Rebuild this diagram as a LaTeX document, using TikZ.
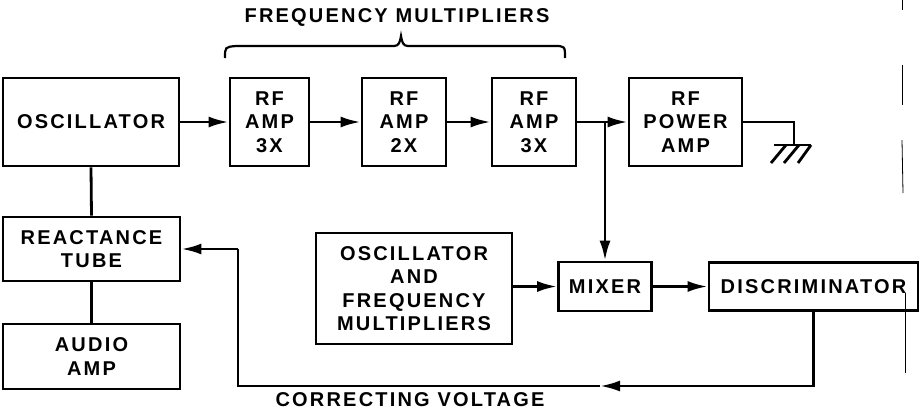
\documentclass[tikz,border=0pt]{standalone}
\usepackage{fontspec}
\setmainfont{Liberation Sans}[LetterSpace=11]
\usetikzlibrary{arrows.meta}
\begin{document}
\begin{tikzpicture}[x=1pt,y=-1pt,
  blk/.style={draw, line width=2.8pt, rectangle, inner sep=0pt, align=center,
    font=\fontsize{20}{23.5}\selectfont\bfseries},
  wire/.style={line width=2.8pt},
  arr/.style={wire, -{Latex[length=20pt,width=11pt]}},
  lbl/.style={font=\fontsize{20}{23.5}\selectfont\bfseries, inner sep=0pt},
  edge/.style={line width=0.8pt}]
\useasboundingbox (0,0) rectangle (921,413);
% blocks
\node[blk, minimum width=176, minimum height=88] (osc) at (91,122) {OSCILLATOR};
\node[blk, minimum width=79, minimum height=88] (rf1) at (269.5,122) {RF\\AMP\\3X};
\node[blk, minimum width=84, minimum height=88] (rf2) at (404,122) {RF\\AMP\\2X};
\node[blk, minimum width=84, minimum height=88] (rf3) at (534,122) {RF\\AMP\\3X};
\node[blk, minimum width=113, minimum height=88] (pa) at (685.5,122) {RF\\POWER\\AMP};
\node[blk, minimum width=177, minimum height=64] (react) at (91.5,249) {REACTANCE\\TUBE};
\node[blk, minimum width=177, minimum height=65] (audio) at (91.5,356.5) {AUDIO\\AMP};
\node[blk, minimum width=196, minimum height=111] (ofm) at (414,288.5) {OSCILLATOR\\AND\\FREQUENCY\\MULTIPLIERS};
\node[blk, minimum width=93, minimum height=49] (mixer) at (605,286.5) {MIXER};
\node[blk, minimum width=209, minimum height=48] (disc) at (813.5,286.5) {DISCRIMINATOR};
% labels
\node[lbl] (fm) at (397,17) {FREQUENCY MULTIPLIERS};
\node[lbl] (cv) at (410,400) {CORRECTING VOLTAGE};
% coordinates
\coordinate (j) at (605,122);
\coordinate (g1) at (794,122);
\coordinate (g2) at (794,145);
\coordinate (m) at (600,386);
\coordinate (c1) at (238,386);
\coordinate (c2) at (238,249);
% connectors
\draw[arr] (osc.east) -- (rf1.west);
\draw[arr] (rf1.east) -- (rf2.west);
\draw[arr] (rf2.east) -- (rf3.west);
\draw[arr] (rf3.east) -- (pa.west);
\draw[arr] (j) -- (mixer.north);
\draw[arr] (ofm.east |- mixer.west) -- (mixer.west);
\draw[arr] (mixer.east) -- (disc.west |- mixer.east);
\draw[wire] (osc.south) -- (react.north);
\draw[wire] (react.south) -- (audio.north);
\draw[arr] (disc.south) |- (m);
\draw[wire] (m) -- (c1) -- (c2);
\draw[arr] (c2) -- (react.east);
% ground
\draw[wire] (pa.east) -- (g1) -- (g2);
\draw[wire] (774,145) -- (811,145);
\draw[wire] (786,145) -- (771,163);
\draw[wire] (799,145) -- (784,163);
\draw[wire] (811,145) -- (798,163);
% brace
\draw[wire, line width=2.2pt] (225,58) .. controls (225,47) .. (236,46) -- (394,46)
  .. controls (399,46) and (400,42) .. (401,36)
  .. controls (402,42) and (403,46) .. (408,46) -- (554,46)
  .. controls (565,46) .. (565,58);
% page edge marks
\draw[edge] (902,0) -- (902,10);
\draw[edge] (902,65) -- (902,105);
\draw[edge] (902,140) -- (903,193);
\draw[edge] (905,293) -- (905,373);
\end{tikzpicture}
\end{document}
